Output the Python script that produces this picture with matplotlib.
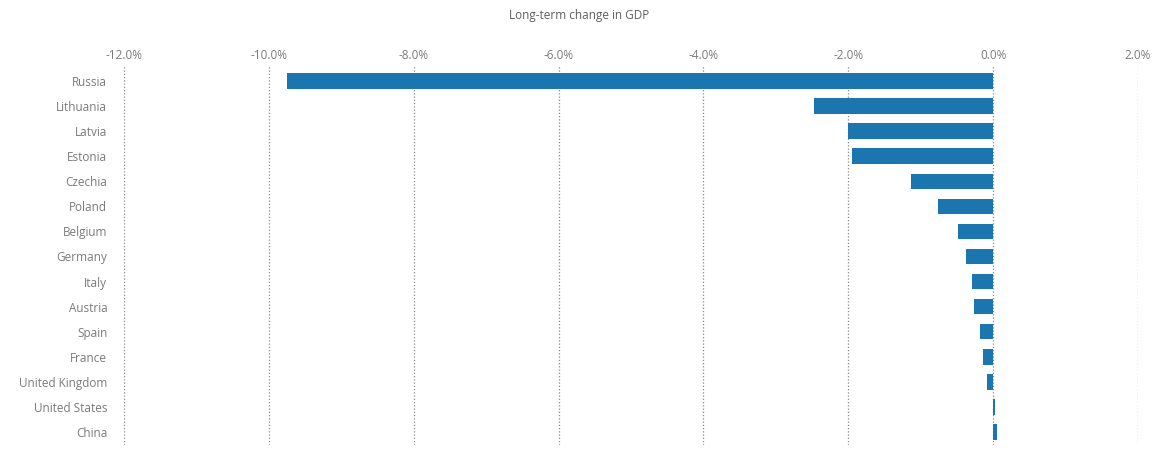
import matplotlib.pyplot as plt
from matplotlib.ticker import FuncFormatter

countries = ["Russia", "Lithuania", "Latvia", "Estonia", "Czechia", "Poland",
             "Belgium", "Germany", "Italy", "Austria", "Spain", "France",
             "United Kingdom", "United States", "China"]
gdp_change = [-9.75, -2.47, -2.00, -1.95, -1.13, -0.76,
              -0.49, -0.38, -0.29, -0.26, -0.18, -0.14,
              -0.09, 0.03, 0.05]
x_ticks = [-12, -10, -8, -6, -4, -2, 0, 2]

plt.rcParams['font.family'] = ['Open Sans', 'DejaVu Sans']
text_color = "#7a7a7a"

fig = plt.figure(figsize=(11.65, 4.5), dpi=100)
ax = fig.add_axes([0.1064, 0.0111, 0.8704, 0.8445])

ypos = list(range(len(countries)))
ax.barh(ypos, gdp_change, height=0.62, color="#1b75ae", zorder=3)

ax.set_xlim(-12, 2)
ax.set_ylim(14.52, -0.64)
ax.set_xticks(x_ticks)
ax.xaxis.set_major_formatter(FuncFormatter(lambda v, p: f"{v:.1f}%"))
ax.set_yticks(ypos)
ax.set_yticklabels(countries)

ax.xaxis.tick_top()
ax.tick_params(axis='both', length=0, labelsize=8.5, labelcolor=text_color)
ax.tick_params(axis='x', pad=2)
ax.tick_params(axis='y', pad=12)

# dotted vertical guides at every tick
for t in x_ticks:
    ax.axvline(t, color="#8a8a8a", linewidth=0.9, linestyle=(0, (1, 1.6)), zorder=1)

for s in ax.spines.values():
    s.set_visible(False)

fig.text(0.497, 1 - 16 / 450, "Long-term change in GDP", ha='center', va='center',
         fontsize=8.5, color="#5e5e5e")

fig.savefig("out.png", dpi=100)
